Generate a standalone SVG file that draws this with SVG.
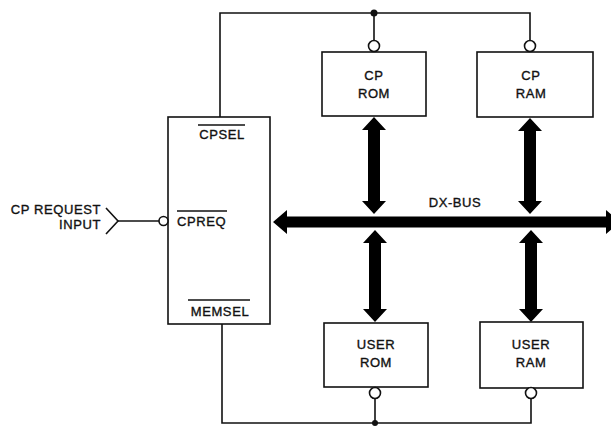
<svg xmlns="http://www.w3.org/2000/svg" width="611" height="426" viewBox="0 0 611 426">
  <style>
    .box { fill: #fff; stroke: #111; stroke-width: 1.6; }
    .wire { fill: none; stroke: #111; stroke-width: 1.6; }
    .bubble { fill: #fff; stroke: #111; stroke-width: 1.6; }
    .bus { fill: #000; stroke: none; }
    .lbl { font-family: "Liberation Sans", Arial, sans-serif; font-size: 13px; fill: #111; stroke: #111; stroke-width: 0.35px; letter-spacing: 0.6px; }
    .mid { text-anchor: middle; }
    .end { text-anchor: end; }
    .bar { stroke: #111; stroke-width: 1.4; }
  </style>

  <!-- control wiring -->
  <g id="connectors">
    <!-- CPSEL select line to CP ROM / CP RAM -->
    <path class="wire" d="M220,117 V13 H530 V40"/>
    <path class="wire" d="M374,13 V40"/>
    <circle cx="374" cy="13" r="3.5" fill="#111"/>
    <!-- MEMSEL select line to USER ROM / USER RAM -->
    <path class="wire" d="M222,324 V423 H531 V398"/>
    <path class="wire" d="M375,398 V423"/>
    <circle cx="375" cy="423" r="3" fill="#111"/>
    <!-- request input -->
    <path class="wire" d="M106,208 L118,221 L106,234"/>
    <path class="wire" d="M118,221 H159"/>

    <!-- DX-BUS -->
    <polygon class="bus" points="273,222 287,210 287,216.5 606,216.5 606,210 620,222 606,234 606,227.5 287,227.5 287,234"/>
    <!-- bus taps -->
    <polygon class="bus" points="374,117 386,130 380,130 380,201 386,201 374,214 362,201 368,201 368,130 362,130"/>
    <polygon class="bus" points="530,118 542,131 536,131 536,201 542,201 530,214 518,201 524,201 524,131 518,131"/>
    <polygon class="bus" points="375,230 387,243 381,243 381,309 387,309 375,322 363,309 369,309 369,243 363,243"/>
    <polygon class="bus" points="531,230 543,243 537,243 537,309 543,309 531,322 519,309 525,309 525,243 519,243"/>
    <text class="lbl mid" x="455" y="207">DX-BUS</text>
  </g>

  <g id="controller">
    <rect class="box" x="168" y="117" width="102" height="207"/>
    <text class="lbl mid" x="222" y="139">CPSEL</text>
    <line class="bar" x1="198" y1="125" x2="245" y2="125"/>
    <text class="lbl" x="177" y="226">CPREQ</text>
    <line class="bar" x1="177" y1="211" x2="227" y2="211"/>
    <text class="lbl mid" x="220" y="316">MEMSEL</text>
    <line class="bar" x1="188" y1="300" x2="250" y2="300"/>
    <circle class="bubble" cx="163.5" cy="221" r="4.5"/>
  </g>

  <g id="cp-request-input">
    <text class="lbl end" x="101" y="214">CP REQUEST</text>
    <text class="lbl end" x="101" y="229">INPUT</text>
  </g>

  <g id="cp-rom">
    <rect class="box" x="322" y="52" width="104" height="64"/>
    <text class="lbl mid" x="374" y="80">CP</text>
    <text class="lbl mid" x="374" y="98">ROM</text>
    <circle class="bubble" cx="374" cy="46" r="5.5"/>
  </g>

  <g id="cp-ram">
    <rect class="box" x="477" y="52" width="116" height="65"/>
    <text class="lbl mid" x="531" y="80">CP</text>
    <text class="lbl mid" x="531" y="98">RAM</text>
    <circle class="bubble" cx="530" cy="46" r="5.5"/>
  </g>

  <g id="user-rom">
    <rect class="box" x="324" y="323" width="104" height="64"/>
    <text class="lbl mid" x="376" y="349">USER</text>
    <text class="lbl mid" x="376" y="367">ROM</text>
    <circle class="bubble" cx="375" cy="393" r="5.5"/>
  </g>

  <g id="user-ram">
    <rect class="box" x="480" y="322" width="103" height="66"/>
    <text class="lbl mid" x="531" y="349">USER</text>
    <text class="lbl mid" x="531" y="367">RAM</text>
    <circle class="bubble" cx="531" cy="393" r="5.5"/>
  </g>
</svg>
